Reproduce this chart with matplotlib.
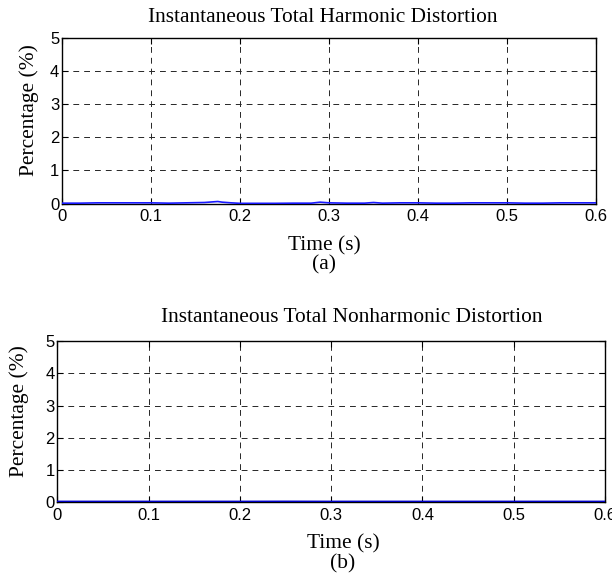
import matplotlib
matplotlib.use("Agg")
import matplotlib.pyplot as plt

# ---- data ----
time_a = [0.00, 0.02, 0.04, 0.06, 0.08, 0.10, 0.12, 0.14, 0.16, 0.17, 0.175,
          0.18, 0.19, 0.20, 0.22, 0.24, 0.26, 0.28, 0.29, 0.30, 0.32, 0.34,
          0.35, 0.36, 0.38, 0.40, 0.42, 0.44, 0.46, 0.48, 0.50, 0.52, 0.54,
          0.56, 0.58, 0.60]
thd_a = [0.01, 0.01, 0.02, 0.02, 0.02, 0.02, 0.01, 0.02, 0.03, 0.05, 0.06,
         0.04, 0.02, 0.005, 0.005, 0.005, 0.01, 0.01, 0.04, 0.02, 0.01, 0.01,
         0.03, 0.01, 0.02, 0.02, 0.01, 0.01, 0.02, 0.02, 0.02, 0.01, 0.01,
         0.02, 0.02, 0.02]
time_b = [0.00, 0.05, 0.10, 0.15, 0.20, 0.25, 0.30, 0.35, 0.40, 0.45, 0.50,
          0.55, 0.60]
tnd_b = [0.01, 0.01, 0.01, 0.01, 0.01, 0.012, 0.01, 0.01, 0.01, 0.01, 0.01,
         0.01, 0.01]

x_ticks = [0, 0.1, 0.2, 0.3, 0.4, 0.5, 0.6]
x_labels = ["0", "0.1", "0.2", "0.3", "0.4", "0.5", "0.6"]
y_ticks = [0, 1, 2, 3, 4, 5]
y_labels = ["0", "1", "2", "3", "4", "5"]

titles = ["Instantaneous Total Harmonic Distortion",
          "Instantaneous Total Nonharmonic Distortion"]
xlabel = "Time (s)"
ylabel = "Percentage (%)"
captions = ["(a)", "(b)"]

W, H = 612, 577
plt.rcParams['lines.scale_dashes'] = False
fig = plt.figure(figsize=(W / 100, H / 100), dpi=100)

serif = ["Liberation Serif", "DejaVu Serif"]
sans = ["Liberation Sans", "DejaVu Sans"]


def px_axes(x0, x1, y0, y1):
    return fig.add_axes([x0 / W, 1 - y1 / H, (x1 - x0) / W, (y1 - y0) / H])


def style(ax, t, y, color, lw):
    ax.plot(t, y, color=color, lw=lw, zorder=5)
    ax.set_xlim(0, 0.6)
    ax.set_ylim(0, 5)
    ax.set_xticks(x_ticks)
    ax.set_xticklabels(x_labels, family=sans, fontsize=12)
    ax.set_yticks(y_ticks)
    ax.set_yticklabels(y_labels, family=sans, fontsize=12)
    ax.tick_params(direction="in", length=4, width=0.8, top=True, right=True,
                   pad=2, colors="black")
    ax.tick_params(axis="x", pad=4)
    ax.grid(True, color="0.15", linestyle=(0, (4.2, 3.6)), linewidth=0.7)
    for s in ax.spines.values():
        s.set_linewidth(1.0)
        s.set_color("black")


# (a)
ax1 = px_axes(62, 596, 37.5, 203.5)
style(ax1, time_a, thd_a, "#1a1aff", 1.2)
fig.text(323 / W, 1 - 17 / H, titles[0], family=serif, fontsize=15.4,
         ha="center", va="center")
fig.text(324 / W, 1 - 246 / H, xlabel, family=serif, fontsize=15.4,
         ha="center", va="center")
fig.text(324 / W, 1 - 265 / H, captions[0], family=serif, fontsize=15.4,
         ha="center", va="center")
fig.text(29 / W, 1 - 110 / H, ylabel, family=serif, fontsize=15.4,
         ha="center", va="center", rotation=90)

# (b)
ax2 = px_axes(57.3, 605, 341, 502.3)
style(ax2, time_b, tnd_b, "#0000c8", 2.0)
fig.text(352 / W, 1 - 318 / H, titles[1], family=serif, fontsize=15.4,
         ha="center", va="center")
fig.text(343 / W, 1 - 544 / H, xlabel, family=serif, fontsize=15.4,
         ha="center", va="center")
fig.text(343 / W, 1 - 564 / H, captions[1], family=serif, fontsize=15.4,
         ha="center", va="center")
fig.text(19 / W, 1 - 411 / H, ylabel, family=serif, fontsize=15.4,
         ha="center", va="center", rotation=90)

fig.savefig("out.png", dpi=100)
